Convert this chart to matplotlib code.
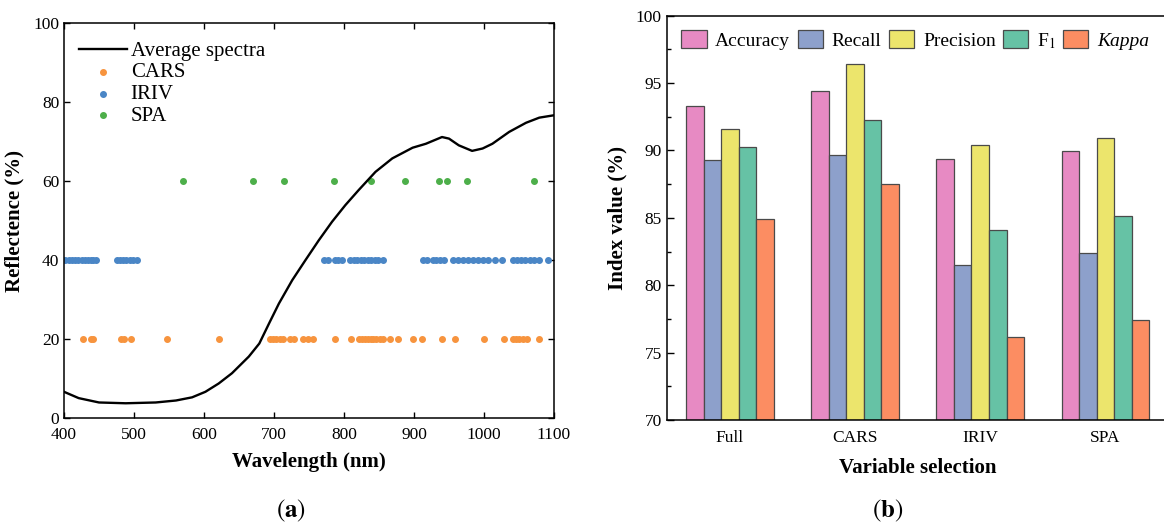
import numpy as np
import matplotlib
matplotlib.use("Agg")
import matplotlib.pyplot as plt
from matplotlib.ticker import MultipleLocator

plt.rcParams['font.family'] = ['Liberation Serif', 'DejaVu Serif']
plt.rcParams['mathtext.fontset'] = 'stix'

# ---- Panel (a) data ----
spec_wl = [400, 421, 450, 488, 531, 560, 583, 602, 621, 640, 664, 679, 693, 707,
           726, 745, 764, 783, 802, 821, 845, 869, 898, 917, 940, 950, 964, 983,
           998, 1012, 1036, 1060, 1079, 1100]
spec_refl = [6.7, 5.1, 4.0, 3.8, 4.0, 4.5, 5.3, 6.7, 8.8, 11.4, 15.6, 18.9, 24.0, 29.0,
             34.9, 40.0, 45.0, 49.7, 53.9, 57.7, 62.3, 65.7, 68.4, 69.4, 71.1, 70.7, 69.0, 67.6,
             68.2, 69.4, 72.4, 74.7, 76.0, 76.6]

cars_wl = [427, 438, 442, 481, 485, 496, 547, 621, 695, 699, 703, 708, 713, 723, 728,
           742, 749, 756, 787, 810, 822, 826, 830, 834, 838, 842, 846, 851, 855, 866,
           877, 898, 911, 940, 958, 1000, 1028, 1041, 1045, 1050, 1055, 1062, 1078]
iriv_wl = [402, 407, 412, 416, 420, 425, 430, 434, 438, 442, 446,
           475, 480, 484, 489, 494, 499, 504,
           771, 777, 787, 792, 797, 809, 814, 819, 824, 829, 834, 839, 844, 849, 855,
           913, 918, 927, 932, 937, 943, 956, 963, 970, 977, 984, 991, 998, 1006,
           1015, 1025, 1042, 1047, 1053, 1059, 1065, 1071, 1079, 1092]
spa_wl = [570, 670, 715, 786, 839, 887, 935, 947, 975, 1072]
cars_level = 20
iriv_level = 40
spa_level = 60

# ---- Panel (b) data ----
methods = ['Full', 'CARS', 'IRIV', 'SPA']
metric_names = ['Accuracy', 'Recall', 'Precision', 'F$_1$', 'Kappa']
accuracy = [93.28, 94.40, 89.39, 89.96]
recall = [89.29, 89.69, 81.48, 82.42]
precision = [91.62, 96.38, 90.38, 90.93]
f1 = [90.28, 92.24, 84.13, 85.17]
kappa = [84.95, 87.48, 76.17, 77.41]

W, H = 1164, 527
fig = plt.figure(figsize=(W / 100, H / 100), dpi=100)

# ---------------- Panel (a) ----------------
axa = fig.add_axes([64 / W, 1 - 418.3 / H, (554 - 64) / W, (418.3 - 22.7) / H])
axa.plot(spec_wl, spec_refl, color='black', lw=1.7, label='Average spectra', zorder=3)
axa.scatter(cars_wl, [cars_level] * len(cars_wl), s=16, color='#F7943E', label='CARS', zorder=2)
axa.scatter(iriv_wl, [iriv_level] * len(iriv_wl), s=16, color='#4A86C6', label='IRIV', zorder=2)
axa.scatter(spa_wl, [spa_level] * len(spa_wl), s=16, color='#4DAF4A', label='SPA', zorder=2)
axa.set_xlim(400, 1100)
axa.set_ylim(0, 100)
axa.set_xticks(range(400, 1101, 100))
axa.set_yticks(range(0, 101, 20))
axa.tick_params(direction='in', top=True, right=True, length=4, width=1, labelsize=12.5)
axa.tick_params(axis='x', pad=6)
for s in axa.spines.values():
    s.set_linewidth(1.1)
axa.set_xlabel('Wavelength (nm)', fontsize=15, fontweight='bold', labelpad=7)
axa.set_ylabel('Reflectence (%)', fontsize=15, fontweight='bold', labelpad=6)
axa.legend(loc='upper left', frameon=False, fontsize=15, handlelength=2.3,
           labelspacing=0.1, handletextpad=0.2, borderaxespad=0.3,
           bbox_to_anchor=(0.0, 0.99), scatterpoints=1)

# ---------------- Panel (b) ----------------
axb = fig.add_axes([666.7 / W, 1 - 420 / H, (1168 - 666.7) / W, (420 - 15.7) / H])
series = [accuracy, recall, precision, f1, kappa]
colors = ['#E78AC3', '#8DA0CB', '#ECE56C', '#66C2A5', '#FC8D62']
x = np.arange(len(methods))
bw = 0.14
for i, (vals, c, name) in enumerate(zip(series, colors, metric_names)):
    axb.bar(x + (i - 2) * bw, np.array(vals) - 70, bottom=70, width=bw, color=c,
            edgecolor='#4a4a4a', linewidth=0.9, label=name)
axb.set_xlim(-0.505, 3.5)
axb.set_ylim(70, 100)
axb.set_xticks(x)
axb.set_xticklabels(methods)
axb.yaxis.set_major_locator(MultipleLocator(5))
axb.yaxis.set_minor_locator(MultipleLocator(2.5))
axb.tick_params(axis='y', which='major', direction='in', length=5, width=1, labelsize=12.5)
axb.tick_params(axis='y', which='minor', direction='in', length=3, width=1)
axb.tick_params(axis='x', length=0, labelsize=12.5, pad=7)
for s in axb.spines.values():
    s.set_linewidth(1.1)
axb.set_xlabel('Variable selection', fontsize=15, fontweight='bold', labelpad=9)
axb.set_ylabel('Index value (%)', fontsize=15, fontweight='bold', labelpad=6)
leg = axb.legend(loc='upper left', ncol=5, frameon=False, fontsize=14,
                 handlelength=1.3, handleheight=1.05, handletextpad=0.45,
                 columnspacing=0.38, bbox_to_anchor=(0.0, 1.0), borderaxespad=0.35)
leg.get_texts()[4].set_fontstyle('italic')

# captions
fig.text(291 / W, 1 - 511 / H, r'$(\mathbf{a})$', ha='center', va='center', fontsize=18)
fig.text(888 / W, 1 - 511 / H, r'$(\mathbf{b})$', ha='center', va='center', fontsize=18)

fig.savefig('out.png', dpi=100)
